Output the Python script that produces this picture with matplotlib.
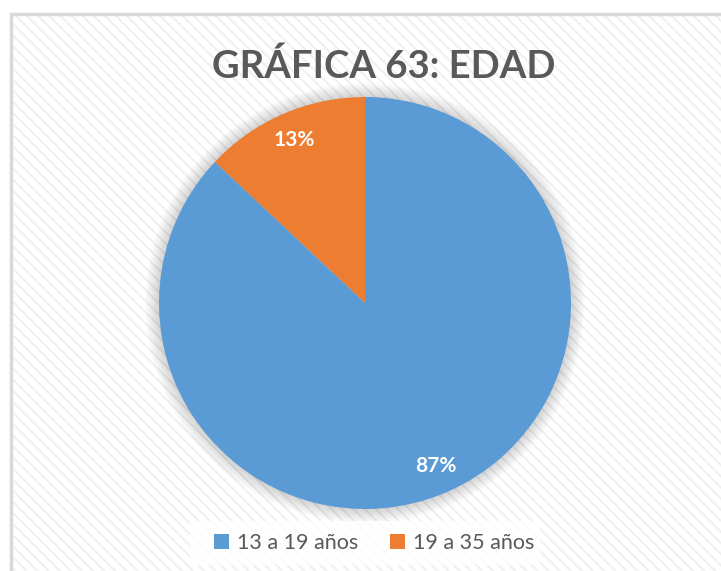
import matplotlib.pyplot as plt
from matplotlib.patches import Rectangle, Circle

# age groups and their share (%)
groups = ["13 a 19 años", "19 a 35 años"]
shares = [87, 13]
colors = ["#5b9bd5", "#ed7d31"]
title = "GRÁFICA 63: EDAD"

W, H = 721, 571
plt.rcParams['font.family'] = ['Lato', 'DejaVu Sans']
plt.rcParams['hatch.linewidth'] = 1.5

fig = plt.figure(figsize=(W / 100, H / 100), dpi=100)
ax = fig.add_axes([0, 0, 1, 1])
ax.set_xlim(0, W)
ax.set_ylim(0, H)
ax.set_aspect('equal')
ax.axis('off')

# chart area: light diagonal texture + thin border
ax.add_patch(Rectangle((11, -5), W, H - 14 + 5, facecolor="white",
                       edgecolor="none", zorder=0))
ax.add_patch(Rectangle((11, -5), W, H - 14 + 5, facecolor="none",
                       edgecolor="#f0f0f0", hatch="\\\\\\", linewidth=0, zorder=0.5))
ax.add_patch(Rectangle((11, -5), W, H - 14 + 5, facecolor="none",
                       edgecolor="#d9d9d9", linewidth=2.5, zorder=1))

cx, cy, r = 365, 268, 206

# soft shadow round the pie
for k in range(14):
    ax.add_patch(Circle((cx, cy), r + 14 - k, facecolor="#000000",
                        alpha=0.012, edgecolor="none", zorder=2))

# draw orange first so it starts at 12 o'clock going counter-clockwise
order = [1, 0]
wedges, texts, autotexts = ax.pie(
    [shares[i] for i in order], colors=[colors[i] for i in order],
    center=(cx, cy), radius=r, startangle=90, counterclock=True,
    autopct=lambda p: f"{p:.0f}%", pctdistance=0.86,
    wedgeprops=dict(linewidth=0), frame=True,
    textprops=dict(color="white", fontsize=15, fontweight="bold"))
for w in wedges:
    w.set_zorder(3)
for t in autotexts:
    t.set_zorder(4)
ax.set_xlim(0, W)
ax.set_ylim(0, H)
ax.axis('off')

ax.text(384, H - 66, title, ha="center", va="center", fontsize=27.5,
        fontweight="bold", color="#595959", zorder=5)

# legend
ax.add_patch(Rectangle((190, 6), 350, 44, facecolor="white",
                       edgecolor="none", alpha=0.85, zorder=4))
handles = [Rectangle((0, 0), 1, 1, facecolor=c, edgecolor="none") for c in colors]
leg = ax.legend(handles, groups, loc="center", bbox_to_anchor=(374 / W, (H - 543) / H),
                ncol=2, frameon=False, fontsize=15.5, handlelength=0.7,
                handleheight=0.7, handletextpad=0.35, columnspacing=1.5)
for t in leg.get_texts():
    t.set_color("#595959")

fig.savefig("out.png", dpi=100)
